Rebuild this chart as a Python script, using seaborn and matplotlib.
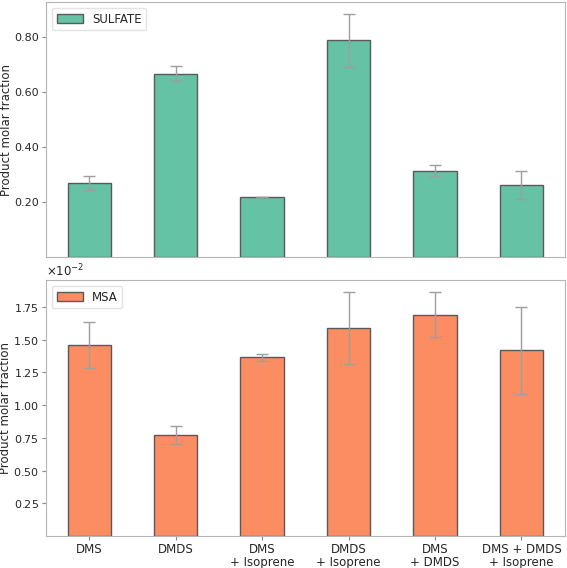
import matplotlib
matplotlib.use("Agg")
import matplotlib.pyplot as plt
import matplotlib.ticker as mticker
import numpy as np
import pandas as pd
import seaborn as sns

conditions = ["DMS", "DMDS", "DMS\n+ Isoprene", "DMDS\n+ Isoprene",
              "DMS\n+ DMDS", "DMS + DMDS\n+ Isoprene"]
sulfate = [0.269, 0.666, 0.219, 0.788, 0.314, 0.262]
sulfate_err = [0.027, 0.028, 0.0, 0.097, 0.020, 0.050]
msa = [1.457e-2, 0.772e-2, 1.365e-2, 1.587e-2, 1.691e-2, 1.419e-2]
msa_err = [0.175e-2, 0.070e-2, 0.025e-2, 0.274e-2, 0.173e-2, 0.331e-2]
sulfate_ticks = [0.2, 0.4, 0.6, 0.8]
msa_ticks = [0.25e-2, 0.5e-2, 0.75e-2, 1.0e-2, 1.25e-2, 1.5e-2, 1.75e-2]

sns.set_style("white")
plt.rcParams["font.family"] = ["DejaVu Sans"]
plt.rcParams["font.size"] = 8.5
colors = sns.color_palette("Set2", 2)

df = pd.DataFrame({"condition": conditions, "SULFATE": sulfate, "MSA": msa})

fig = plt.figure(figsize=(5.67, 5.68), dpi=100)
ax_top = fig.add_axes([0.081, 0.5475, 0.915, 0.449])
ax_bot = fig.add_axes([0.081, 0.0563, 0.915, 0.4507], sharex=ax_top)


def draw(ax, col, err, color, ticks, ymax):
    sns.barplot(data=df, x="condition", y=col, color=color, width=0.5,
                edgecolor="0.35", linewidth=1, saturation=1,
                errorbar=None, ax=ax, label=col)
    ax.errorbar(np.arange(len(conditions)), df[col], yerr=err, fmt="none",
                ecolor="0.62", elinewidth=1, capsize=4, capthick=1)
    ax.set_ylim(0, ymax)
    ax.set_xlim(-0.5, len(conditions) - 0.5)
    ax.set_yticks(ticks)
    ax.set_ylabel("Product molar fraction", fontsize=8.5, labelpad=1)
    ax.set_xlabel("")
    for s in ax.spines.values():
        s.set_color("#b5b5b5")
    ax.tick_params(axis="both", which="both", length=3, width=0.8,
                   color="#888888", direction="out", pad=2,
                   left=True, bottom=True)
    ax.tick_params(axis="y", labelsize=8)
    ax.tick_params(axis="x", labelsize=8.5)
    ax.legend(loc="upper left", fontsize=8.5, handlelength=2.2,
              edgecolor="#dddddd")


draw(ax_top, "SULFATE", sulfate_err, colors[0], sulfate_ticks, 0.927)
ax_top.yaxis.set_major_formatter(mticker.FormatStrFormatter("%.2f"))
ax_top.tick_params(axis="x", labelbottom=False, bottom=False)

draw(ax_bot, "MSA", msa_err, colors[1], msa_ticks, 1.955e-2)
fmt = mticker.ScalarFormatter(useMathText=True)
fmt.set_powerlimits((-1, 1))
ax_bot.yaxis.set_major_formatter(fmt)
ax_bot.yaxis.get_offset_text().set_fontsize(8.5)
ax_bot.set_xticks(range(len(conditions)))
ax_bot.set_xticklabels(conditions, linespacing=1.0)

fig.savefig("out.png", dpi=100)
